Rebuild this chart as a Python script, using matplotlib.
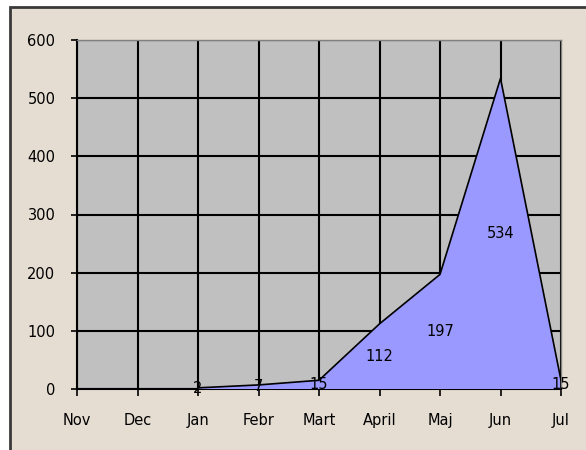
import matplotlib
matplotlib.use("Agg")
import matplotlib.pyplot as plt
from matplotlib.patches import Rectangle
import numpy as np

months = ["Nov", "Dec", "Jan", "Febr", "Mart", "April", "Maj", "Jun", "Jul"]
values = [np.nan, np.nan, 2, 7, 15, 112, 197, 534, 15]
y_ticks = [0, 100, 200, 300, 400, 500, 600]

plt.rcParams['font.family'] = ['DejaVu Sans']

W, H = 586, 450
fig = plt.figure(figsize=(W / 100, H / 100), dpi=100)
fig.patch.set_facecolor("white")

# beige chart-area background with dark border (top/left visible)
bg = Rectangle((10 / W, -0.05), 1.1, 1 - 7 / H + 0.05, transform=fig.transFigure,
               facecolor="#E5DDD2", edgecolor="#3a3a3a", linewidth=2, zorder=-10)
fig.patches.append(bg)

ax = fig.add_axes([77 / W, 1 - 389 / H, (561 - 77) / W, 349 / H])
ax.set_zorder(1)
ax.set_facecolor("#C0C0C0")

x = np.arange(len(months))
vals = np.array(values, dtype=float)
mask = ~np.isnan(vals)
ax.fill_between(x[mask], 0, vals[mask], facecolor="#9999FF", edgecolor="none", zorder=3)
ax.plot(x[mask], vals[mask], color="black", lw=1.2, zorder=4)
ax.plot([x[mask][-1], x[mask][-1]], [0, vals[mask][-1]], color="black", lw=1.2, zorder=4)

for xi, v in zip(x[mask], vals[mask]):
    ax.text(xi, v / 2, f"{int(v)}", ha="center", va="center", fontsize=10.5,
            color="black", zorder=5)

ax.set_xlim(0, len(months) - 1)
ax.set_ylim(0, 600)
ax.set_xticks(x)
ax.set_xticklabels(months)
ax.set_yticks(y_ticks)
ax.grid(True, color="black", lw=1.5, zorder=1)
ax.set_axisbelow(True)
ax.tick_params(axis="y", direction="out", length=4.5, width=1.2, color="black",
               labelsize=10.5, pad=11)
ax.tick_params(axis="x", direction="out", length=5, width=1.2, color="black",
               labelsize=10.5, pad=12)
for s in ["top", "right"]:
    ax.spines[s].set_color("#808080")
    ax.spines[s].set_linewidth(1)
for s in ["left", "bottom"]:
    ax.spines[s].set_color("black")
    ax.spines[s].set_linewidth(1.5)

fig.savefig("out.png", dpi=100)
